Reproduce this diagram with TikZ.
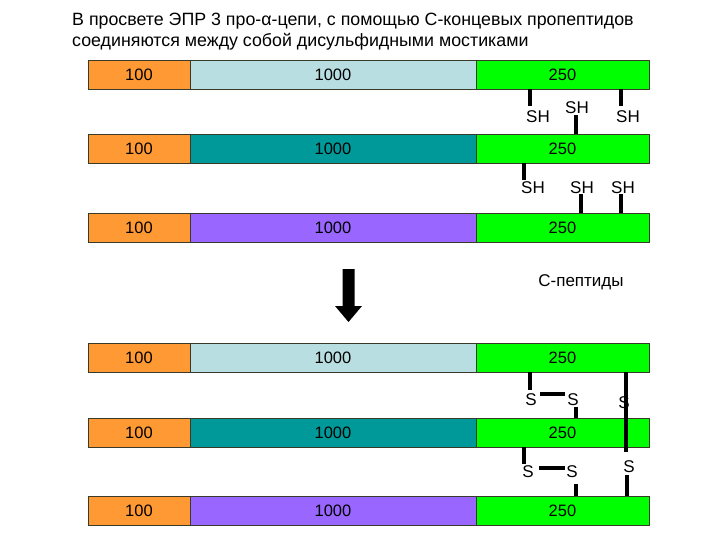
\documentclass[tikz,border=0pt]{standalone}
\usepackage{fontspec}
\setmainfont{Liberation Sans}
\definecolor{cOrange}{HTML}{FF9933}
\definecolor{cLight}{HTML}{B9DEE2}
\definecolor{cTeal}{HTML}{009999}
\definecolor{cPurple}{HTML}{9966FF}
\definecolor{cGreen}{HTML}{00FF00}
\definecolor{cEdge}{HTML}{3A3A2A}
\begin{document}
\begin{tikzpicture}[x=1pt,y=-1pt,
  seg/.style={draw=cEdge,line width=0.7pt,minimum height=29pt,inner sep=0pt,outer sep=0pt,font=\fontsize{16.5}{16.5}\selectfont},
  segA/.style={seg,fill=cOrange,minimum width=102pt},
  segB/.style={seg,minimum width=286pt},
  segC/.style={seg,fill=cGreen,minimum width=173pt},
  lab/.style={inner sep=0pt,font=\fontsize{17}{17}\selectfont},
  stick/.style={line width=3.5pt,black}]
\useasboundingbox (0,0) rectangle (720,540);
\node[anchor=base west,inner sep=0pt,align=left,font=\fontsize{17.8}{21}\selectfont] (title) at (72,46.5)
  {В просвете ЭПР 3 про-α-цепи, с помощью С-концевых пропептидов\\соединяются между собой дисульфидными мостиками};
% rows
\foreach \r/\y/\c in {1/60/cLight,2/134/cTeal,3/213/cPurple,4/343/cLight,5/418/cTeal,6/496/cPurple}{
  \node[segA] (a\r) at (139,\y+14.5) {100};
  \node[segB,fill=\c] (b\r) at (333,\y+14.5) {1000};
  \node[segC] (g\r) at (562.5,\y+14.5) {250};
}
% SH labels top
\node[lab] (sh1) at (538,117) {SH};
\node[lab] (sh2) at (577,108) {SH};
\node[lab] (sh3) at (628,117) {SH};
\node[lab] (sh4) at (533,188) {SH};
\node[lab] (sh5) at (582,188) {SH};
\node[lab] (sh6) at (623,188) {SH};
\coordinate (p1) at (530,106);
\coordinate (p2) at (576,115);
\coordinate (p3) at (621,106);
\coordinate (p4) at (524,180);
\coordinate (p5) at (581,194);
\coordinate (p6) at (621,194);
\draw[stick] (p1 |- g1.south) -- (p1);
\draw[stick] (p3 |- g1.south) -- (p3);
\draw[stick] (p2 |- g2.north) -- (p2);
\draw[stick] (p4 |- g2.south) -- (p4);
\draw[stick] (p5 |- g3.north) -- (p5);
\draw[stick] (p6 |- g3.north) -- (p6);
% C-peptides
\node[lab] (cp) at (581,282) {С-пептиды};
% arrow
\fill[black] (342.5,269) -- (354.5,269) -- (354.5,306) -- (362,306) -- (348.5,322) -- (335,306) -- (342.5,306) -- cycle;
% S labels bottom
\node[lab] (s1) at (531,400) {S};
\node[lab] (s2) at (573,400) {S};
\node[lab] (s3) at (624,403) {S};
\node[lab] (s4) at (528,472) {S};
\node[lab] (s5) at (572,472) {S};
\node[lab] (s6) at (629,467) {S};
\coordinate (q1) at (530,390);
\coordinate (q2) at (576,407);
\coordinate (q3) at (626,452);
\coordinate (q4) at (524,464);
\coordinate (q5) at (576,484);
\coordinate (q6) at (627,475);
\coordinate (h1a) at (540,394); \coordinate (h1b) at (565,394);
\coordinate (h2a) at (539,468); \coordinate (h2b) at (565,468);
\draw[stick] (q1 |- g4.south) -- (q1);
\draw[stick] (q2 |- g5.north) -- (q2);
\draw[stick] (q3 |- g4.south) -- (q3);
\draw[stick] (q4 |- g5.south) -- (q4);
\draw[stick] (q5 |- g6.north) -- (q5);
\draw[stick] (q6 |- g6.north) -- (q6);
\draw[stick] (h1a) -- (h1b);
\draw[stick] (h2a) -- (h2b);
\end{tikzpicture}
\end{document}
